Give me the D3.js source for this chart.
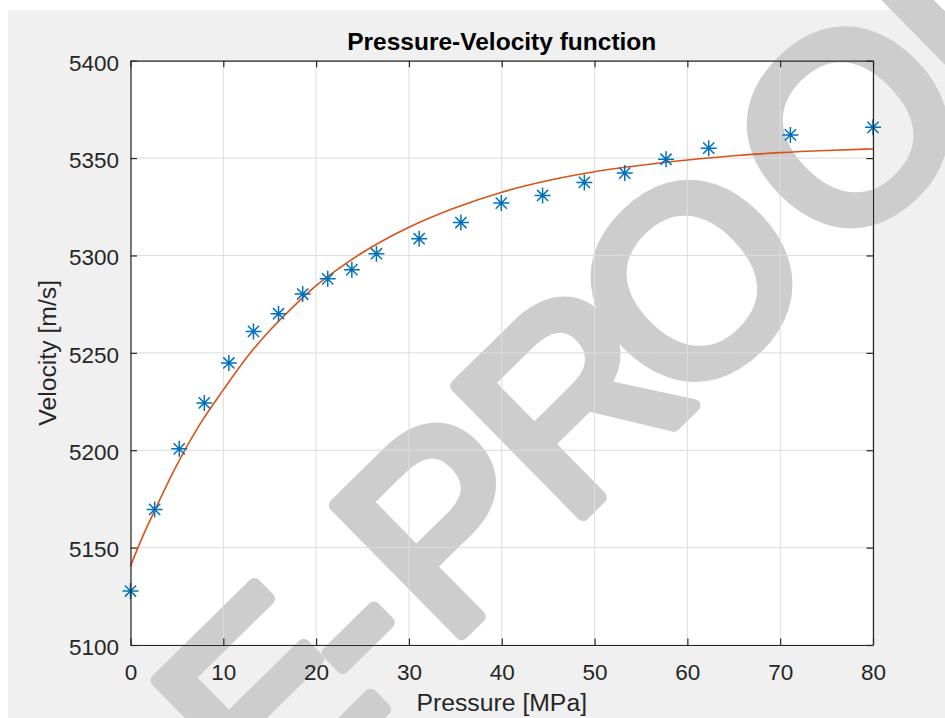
<!DOCTYPE html>
<html>
<head>
<meta charset="utf-8">
<script src="https://cdn.jsdelivr.net/npm/d3@7"></script>
<style>
  html, body { margin: 0; padding: 0; background: #ffffff; }
  svg { display: block; }
  text { font-family: "Liberation Sans", Arial, Helvetica, sans-serif; }
</style>
</head>
<body>
<svg id="chart" width="945" height="718"></svg>
<script>
// ---- data ----
const pressure = [0, 2.6, 5.25, 7.95, 10.6, 13.25, 15.95, 18.55, 21.25, 23.85, 26.5,
                  31.1, 35.6, 39.95, 44.4, 48.9, 53.25, 57.7, 62.3, 71.1, 80];
const velocity = [5127.7, 5169.6, 5200.7, 5224.3, 5244.8, 5261, 5270.1, 5280.2, 5288, 5292.7, 5300.9,
                  5308.6, 5316.9, 5326.9, 5330.8, 5337.5, 5342.3, 5349.4, 5355.1, 5361.9, 5365.8];
const fitPressure = [0, 1.25, 2.5, 5, 7.5, 10, 12.5, 15, 17.5, 20, 22.5, 25, 30, 35, 40, 45, 50, 55, 60, 65, 70, 75, 80];
const fitVelocity = [5140.5, 5155, 5168, 5192.5, 5213.5, 5231, 5247.5, 5261.5, 5273.5, 5284.5, 5293.5, 5301.5,
                     5314.5, 5324.5, 5332.5, 5338.5, 5343, 5346.3, 5349, 5351.2, 5352.8, 5353.9, 5354.7];
const xTicks = [0, 10, 20, 30, 40, 50, 60, 70, 80];
const yTicks = [5100, 5150, 5200, 5250, 5300, 5350, 5400];
const titleText = "Pressure-Velocity function";
const xLabel = "Pressure [MPa]";
const yLabel = "Velocity [m/s]";
const watermark = ["E", "-", "P", "R", "O", "O", "F"];

// ---- layout ----
const W = 945, H = 718;
const L = 130.5, R = 873, T = 60.7, B = 645;
const axisColor = "#262626";

const svg = d3.select("#chart");
const x = d3.scaleLinear().domain([0, 80]).range([L, R]);
const y = d3.scaleLinear().domain([5100, 5400]).range([B, T]);

// figure background
svg.append("rect").attr("x", 8).attr("y", 10).attr("width", W - 8).attr("height", H - 10).attr("fill", "#f0f0f0");
// plot area
svg.append("rect").attr("x", L).attr("y", T).attr("width", R - L).attr("height", B - T).attr("fill", "#ffffff");

// watermark (decorative)
const wm = svg.append("g").attr("transform", "translate(462,639) rotate(-44.5)");
const wmX = [-268, -73, -18, 152, 415, 634, 732];
const wmAnchor = ["start", "middle", "start", "start", "middle", "middle", "start"];
watermark.forEach((ch, i) => {
  wm.append("text")
    .attr("x", wmX[i]).attr("y", -4)
    .attr("text-anchor", wmAnchor[i])
    .attr("font-size", 262).attr("font-weight", "normal")
    .attr("fill", "#cdcdcd").attr("stroke", "#cdcdcd").attr("stroke-width", 13)
    .attr("stroke-linejoin", "round")
    .text(ch);
});

// grid
const grid = svg.append("g").attr("stroke", "#dcdcdc").attr("stroke-width", 1);
xTicks.forEach(t => grid.append("line").attr("x1", x(t)).attr("x2", x(t)).attr("y1", T).attr("y2", B));
yTicks.forEach(t => grid.append("line").attr("x1", L).attr("x2", R).attr("y1", y(t)).attr("y2", y(t)));

// fitted curve
const line = d3.line().x(d => x(d[0])).y(d => y(d[1])).curve(d3.curveMonotoneX);
svg.append("path")
  .datum(fitPressure.map((p, i) => [p, fitVelocity[i]]))
  .attr("d", line).attr("fill", "none").attr("stroke", "#D95319").attr("stroke-width", 1.6);

// asterisk markers
const star = "M-8,0H8M0,-8V8M-5.6,-5.6L5.6,5.6M-5.6,5.6L5.6,-5.6";
svg.append("g").selectAll("path").data(pressure.map((p, i) => [p, velocity[i]])).join("path")
  .attr("transform", d => `translate(${x(d[0])},${y(d[1])})`)
  .attr("d", star).attr("fill", "none").attr("stroke", "#0072BD").attr("stroke-width", 1.5);

// axes with inward ticks (MATLAB style, box on)
const tickLen = 6.5;
const axB = svg.append("g").attr("transform", `translate(0,${B})`)
  .call(d3.axisBottom(x).tickValues(xTicks).tickSizeInner(-tickLen).tickSizeOuter(0).tickPadding(0).tickFormat(d3.format("d")));
const axT = svg.append("g").attr("transform", `translate(0,${T})`)
  .call(d3.axisTop(x).tickValues(xTicks).tickSizeInner(-tickLen).tickSizeOuter(0).tickFormat(""));
const axL = svg.append("g").attr("transform", `translate(${L},0)`)
  .call(d3.axisLeft(y).tickValues(yTicks).tickSizeInner(-tickLen).tickSizeOuter(0).tickPadding(0).tickFormat(d3.format("d")));
const axR = svg.append("g").attr("transform", `translate(${R},0)`)
  .call(d3.axisRight(y).tickValues(yTicks).tickSizeInner(-tickLen).tickSizeOuter(0).tickFormat(""));

[axB, axT, axL, axR].forEach(a => {
  a.select(".domain").attr("stroke", axisColor).attr("stroke-width", 1.2);
  a.selectAll(".tick line").attr("stroke", axisColor).attr("stroke-width", 1.2);
});
axB.selectAll(".tick text")
  .attr("y", 35).attr("dy", null)
  .attr("font-size", 22.5).attr("fill", axisColor)
  .attr("font-family", "'Liberation Sans', Arial, sans-serif");
axL.selectAll(".tick text")
  .attr("x", -11.5).attr("dy", "0.35em").attr("y", 1.5)
  .attr("font-size", 22.5).attr("fill", axisColor)
  .attr("font-family", "'Liberation Sans', Arial, sans-serif");
[axB, axL, axT, axR].forEach(a => a.attr("font-family", null));

// title and labels
svg.append("text").attr("x", (L + R) / 2).attr("y", 50).attr("text-anchor", "middle")
  .attr("font-size", 24.5).attr("font-weight", "bold").attr("fill", "#000").text(titleText);
svg.append("text").attr("x", (L + R) / 2).attr("y", 711).attr("text-anchor", "middle")
  .attr("font-size", 24.75).attr("fill", axisColor).text(xLabel);
svg.append("text").attr("transform", `translate(56,${(T + B) / 2}) rotate(-90)`).attr("text-anchor", "middle")
  .attr("font-size", 24.75).attr("fill", axisColor).text(yLabel);
</script>
</body>
</html>
